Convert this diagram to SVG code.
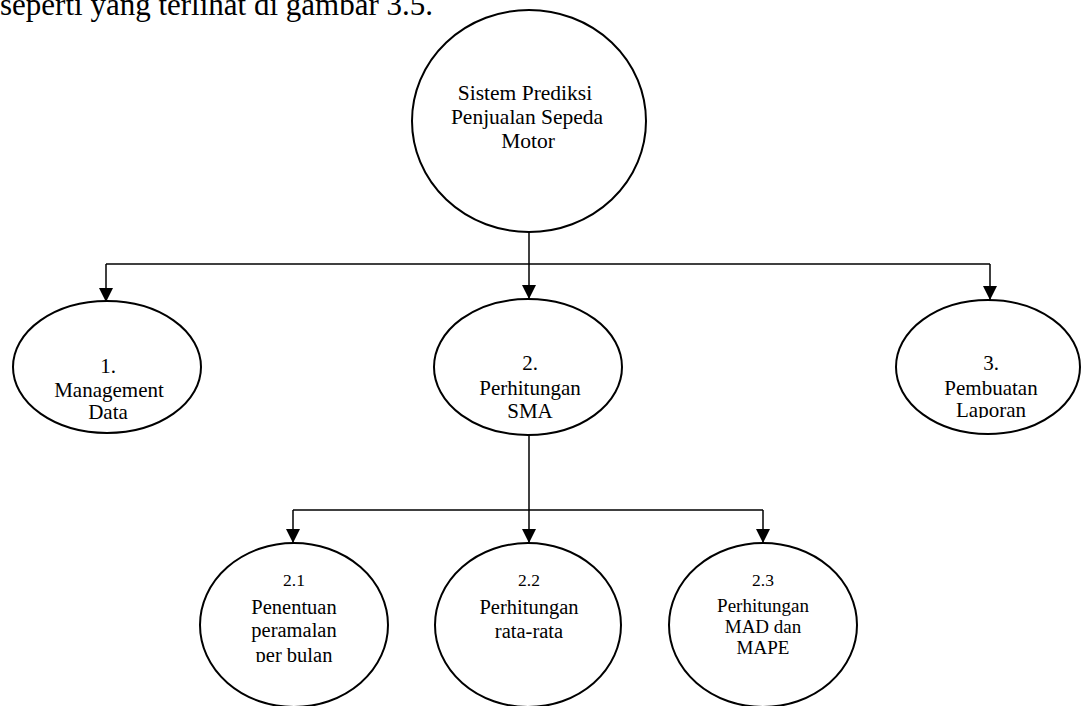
<svg xmlns="http://www.w3.org/2000/svg" width="1081" height="706" viewBox="0 0 1081 706">
  <style>
    .bubble { fill: #ffffff; stroke: #000000; stroke-width: 2; }
    .wire { fill: none; stroke: #000000; stroke-width: 1.5; }
    text { font-family: "Liberation Serif", "Times New Roman", serif; fill: #000000; text-anchor: middle; }
    .t0 { font-size: 21.5px; }
    .t1 { font-size: 21px; }
    .t2 { font-size: 20.5px; }
    .num { font-size: 17.5px; }
    .small { font-size: 19px; }
    .caption { font-size: 31px; text-anchor: start; }
  </style>
  <defs>
    <marker id="arrow" viewBox="0 0 14 15" refX="14" refY="7" markerWidth="14" markerHeight="15" markerUnits="userSpaceOnUse" orient="auto">
      <path d="M0,0 L14,7 L0,14 Z" fill="#000000"/>
    </marker>
    <clipPath id="clip3"><rect x="880" y="300" width="201" height="118"/></clipPath>
    <clipPath id="clip21"><rect x="200" y="540" width="190" height="122"/></clipPath>
  </defs>

  <rect x="0" y="0" width="1081" height="706" fill="#ffffff"/>

  <!-- running text above the chart -->
  <text class="caption" x="0" y="15">seperti yang terlihat di gambar 3.5.</text>

  <!-- connectors -->
  <g id="connectors">
    <path class="wire" d="M529,232 L529,299" marker-end="url(#arrow)"/>
    <path class="wire" d="M106,264 L990,264"/>
    <path class="wire" d="M106,264 L106,302" marker-end="url(#arrow)"/>
    <path class="wire" d="M990,264 L990,300" marker-end="url(#arrow)"/>
    <path class="wire" d="M529,435 L529,543" marker-end="url(#arrow)"/>
    <path class="wire" d="M293,510 L763,510"/>
    <path class="wire" d="M293,510 L293,543" marker-end="url(#arrow)"/>
    <path class="wire" d="M763,510 L763,543" marker-end="url(#arrow)"/>
  </g>

  <!-- root process -->
  <g id="node-root">
    <ellipse class="bubble" cx="529" cy="121" rx="117" ry="111"/>
    <text class="t0" x="525" y="100">Sistem Prediksi</text>
    <text class="t0" x="527" y="124">Penjualan Sepeda</text>
    <text class="t0" x="528" y="148">Motor</text>
  </g>

  <g id="node-1">
    <ellipse class="bubble" cx="107" cy="367" rx="94" ry="66"/>
    <text class="t1" x="108" y="373">1.</text>
    <text class="t1" x="109" y="397">Management</text>
    <text class="t1" x="108" y="419">Data</text>
  </g>

  <g id="node-2">
    <ellipse class="bubble" cx="528" cy="367" rx="94" ry="68"/>
    <text class="t1" x="530" y="370">2.</text>
    <text class="t1" x="530" y="395">Perhitungan</text>
    <text class="t1" x="530" y="418">SMA</text>
  </g>

  <g id="node-3">
    <ellipse class="bubble" cx="988" cy="367" rx="92" ry="67"/>
    <text class="t1" x="991" y="370">3.</text>
    <text class="t1" x="991" y="395">Pembuatan</text>
    <text class="t1" x="991" y="417" clip-path="url(#clip3)">Laporan</text>
  </g>

  <g id="node-2-1">
    <ellipse class="bubble" cx="294" cy="625" rx="94" ry="82"/>
    <text class="num" x="294" y="586">2.1</text>
    <text class="t2" x="294" y="614">Penentuan</text>
    <text class="t2" x="294" y="637">peramalan</text>
    <text class="t2" x="294" y="662" clip-path="url(#clip21)">per bulan</text>
  </g>

  <g id="node-2-2">
    <ellipse class="bubble" cx="528" cy="625" rx="93" ry="82"/>
    <text class="num" x="529" y="586">2.2</text>
    <text class="t2" x="529" y="614">Perhitungan</text>
    <text class="t2" x="529" y="638">rata-rata</text>
  </g>

  <g id="node-2-3">
    <ellipse class="bubble" cx="763" cy="625" rx="94" ry="82"/>
    <text class="num" x="763" y="586">2.3</text>
    <text class="small" x="763" y="612">Perhitungan</text>
    <text class="small" x="763" y="633">MAD dan</text>
    <text class="small" x="763" y="654">MAPE</text>
  </g>
</svg>
